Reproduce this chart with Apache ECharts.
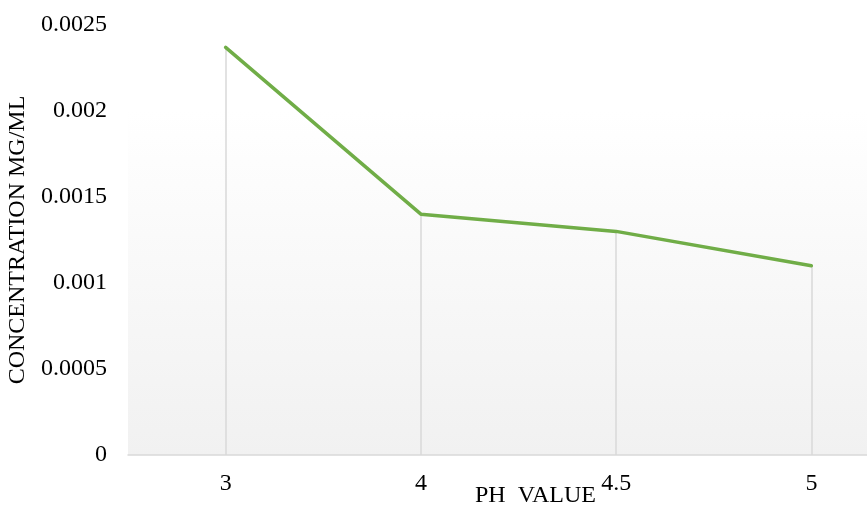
<!DOCTYPE html>
<html>
<head>
<meta charset="utf-8">
<script src="https://cdn.jsdelivr.net/npm/echarts@6/dist/echarts.min.js"></script>
<style>
  html, body { margin: 0; padding: 0; background: #ffffff; }
  #chart { width: 867px; height: 508px; }
</style>
</head>
<body>
<div id="chart"></div>
<script>
// pH values on the x axis and measured concentration (mg/mL)
const phValues = ['3', '4', '4.5', '5'];
const concentration = [0.00237, 0.0014, 0.0013, 0.0011];
const yTicks = { min: 0, max: 0.0025, interval: 0.0005 };

const fontFamily = '"Liberation Serif", "Times New Roman", serif';

// vertical drop lines from each point down to the category axis
const dropLines = concentration.map((v, i) => [
  { coord: [i, v] },
  { coord: [i, 0] }
]);

const chart = echarts.init(document.getElementById('chart'), null, { renderer: 'canvas' });

chart.setOption({
  animation: false,
  grid: {
    left: 128,
    top: 25,
    width: 781,
    height: 430,
    containLabel: false,
    outerBoundsMode: 'none',
    show: true,
    borderWidth: 0,
    backgroundColor: new echarts.graphic.LinearGradient(0, 0, 0, 1, [
      { offset: 0, color: '#ffffff' },
      { offset: 0.2, color: '#ffffff' },
      { offset: 1, color: '#f1f1f1' }
    ])
  },
  xAxis: {
    type: 'category',
    data: phValues,
    boundaryGap: true,
    axisLine: { show: true, lineStyle: { color: '#d9d9d9', width: 1.5 } },
    axisTick: { show: false },
    splitLine: { show: false },
    axisLabel: {
      color: '#000000',
      fontFamily: fontFamily,
      fontSize: 24,
      margin: 17
    }
  },
  yAxis: {
    type: 'value',
    min: yTicks.min,
    max: yTicks.max,
    interval: yTicks.interval,
    name: 'CONCENTRATION MG/ML',
    nameLocation: 'middle',
    nameGap: 98,
    nameTextStyle: {
      color: '#000000',
      fontFamily: fontFamily,
      fontSize: 24
    },
    axisLine: { show: false },
    axisTick: { show: false },
    splitLine: { show: false },
    axisLabel: {
      color: '#000000',
      fontFamily: fontFamily,
      fontSize: 24,
      margin: 21,
      formatter: (v) => String(v)
    }
  },
  graphic: [
    {
      type: 'text',
      left: 475,
      top: 484,
      style: {
        text: 'PH  VALUE',
        fill: '#000000',
        font: '24px ' + fontFamily
      }
    }
  ],
  series: [
    {
      type: 'line',
      data: concentration,
      showSymbol: false,
      symbol: 'none',
      lineStyle: { color: '#70ad47', width: 3.5, cap: 'round', join: 'round' },
      z: 3,
      markLine: {
        silent: true,
        symbol: ['none', 'none'],
        label: { show: false },
        lineStyle: { color: '#d9d9d9', width: 1.5, type: 'solid' },
        data: dropLines,
        z: 1
      }
    }
  ]
});
</script>
</body>
</html>
